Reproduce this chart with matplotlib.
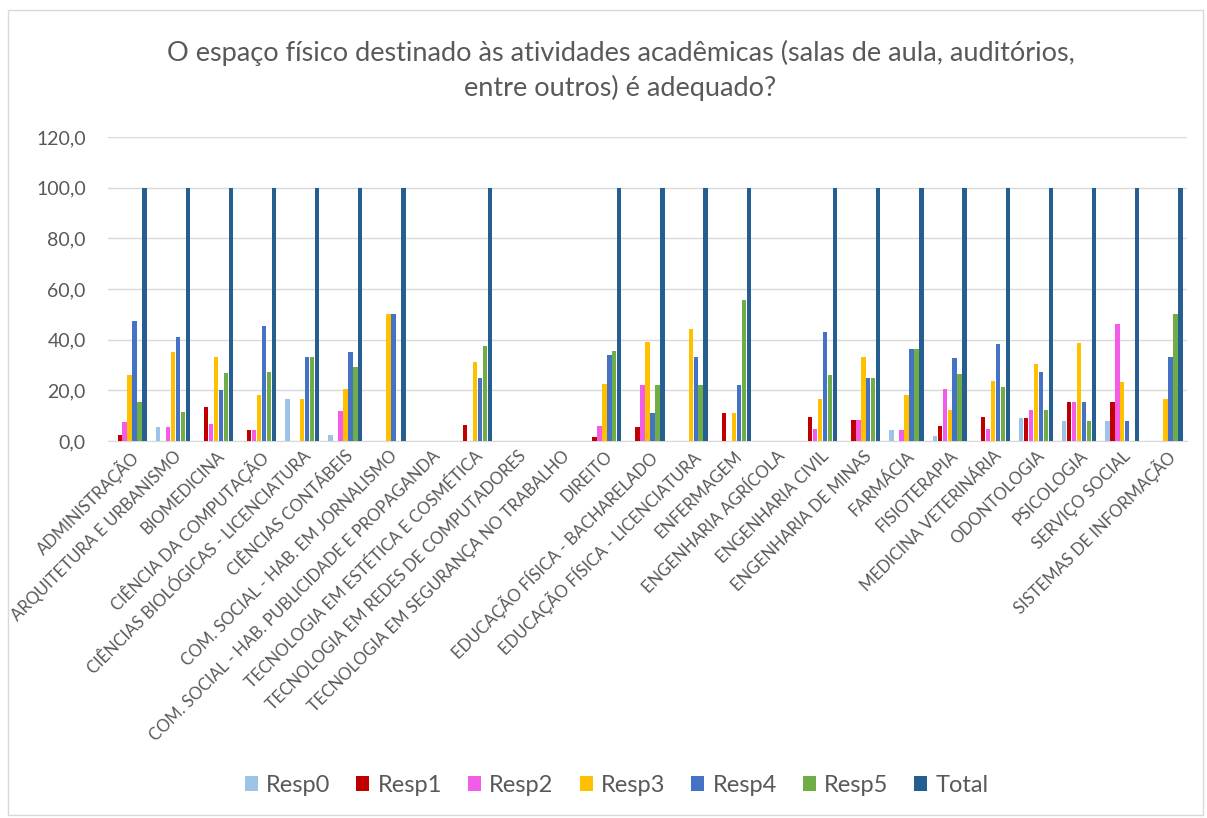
import matplotlib
matplotlib.use("Agg")
import matplotlib.pyplot as plt
import numpy as np
from matplotlib.patches import Rectangle
from matplotlib.ticker import FuncFormatter

categories = [
    "ADMINISTRAÇÃO", "ARQUITETURA E URBANISMO", "BIOMEDICINA", "CIÊNCIA DA COMPUTAÇÃO",
    "CIÊNCIAS BIOLÓGICAS - LICENCIATURA", "CIÊNCIAS CONTÁBEIS",
    "COM. SOCIAL - HAB. EM JORNALISMO", "COM. SOCIAL - HAB. PUBLICIDADE E PROPAGANDA",
    "TECNOLOGIA EM ESTÉTICA E COSMÉTICA", "TECNOLOGIA EM REDES DE COMPUTADORES",
    "TECNOLOGIA EM SEGURANÇA NO TRABALHO", "DIREITO", "EDUCAÇÃO FÍSICA - BACHARELADO",
    "EDUCAÇÃO FÍSICA - LICENCIATURA", "ENFERMAGEM", "ENGENHARIA AGRÍCOLA",
    "ENGENHARIA CIVIL", "ENGENHARIA DE MINAS", "FARMÁCIA", "FISIOTERAPIA",
    "MEDICINA VETERINÁRIA", "ODONTOLOGIA", "PSICOLOGIA", "SERVIÇO SOCIAL",
    "SISTEMAS DE INFORMAÇÃO",
]

resp0 = [0, 5.6, 0, 0, 16.7, 2.4, 0, 0, 0, 0, 0, 0, 0, 0, 0, 0, 0, 0, 4.5, 2.0, 0, 9.1, 7.7, 7.7, 0]
resp1 = [2.5, 0, 13.3, 4.5, 0, 0, 0, 0, 6.2, 0, 0, 1.6, 5.6, 0, 11.1, 0, 9.5, 8.3, 0, 6.1, 9.5, 9.1, 15.4, 15.4, 0]
resp2 = [7.5, 5.6, 6.7, 4.5, 0, 11.8, 0, 0, 0, 0, 0, 6.0, 22.2, 0, 0, 0, 4.8, 8.3, 4.5, 20.4, 4.8, 12.1, 15.4, 46.2, 0]
resp3 = [26.2, 35.2, 33.3, 18.2, 16.7, 20.5, 50.0, 0, 31.2, 0, 0, 22.6, 38.9, 44.4, 11.1, 0, 16.7, 33.3, 18.2, 12.2, 23.8, 30.3, 38.5, 23.1, 16.7]
resp4 = [47.5, 41.2, 20.0, 45.5, 33.3, 35.3, 50.0, 0, 25.0, 0, 0, 33.9, 11.1, 33.3, 22.2, 0, 42.9, 25.0, 36.4, 32.7, 38.1, 27.3, 15.4, 7.7, 33.3]
resp5 = [15.4, 11.4, 26.7, 27.3, 33.3, 29.4, 0, 0, 37.5, 0, 0, 35.5, 22.2, 22.2, 55.6, 0, 26.2, 25.0, 36.4, 26.5, 21.4, 12.1, 7.7, 0, 50.0]
total = [100, 100, 100, 100, 100, 100, 100, 0, 100, 0, 0, 100, 100, 100, 100, 0, 100, 100, 100, 100, 100, 100, 100, 100, 100]

series_names = ["Resp0", "Resp1", "Resp2", "Resp3", "Resp4", "Resp5", "Total"]
series_values = [resp0, resp1, resp2, resp3, resp4, resp5, total]
colors = ["#9DC3E6", "#C00000", "#F25CE8", "#FFC000", "#4472C4", "#70AD47", "#255E91"]

TXT = "#595959"
FONT = ["Lato", "DejaVu Sans"]
plt.rcParams["font.family"] = FONT

fig = plt.figure(figsize=(12.07, 8.18), dpi=100)
ax = fig.add_axes([0.0895, 0.4609, 0.8940, 0.3716])

x = np.arange(len(categories))
step = 0.115
width = 0.10
for i, (name, vals, c) in enumerate(zip(series_names, series_values, colors)):
    ax.bar(x + (i - 3) * step, vals, width=width, color=c, label=name, zorder=3, linewidth=0)

ax.set_xlim(-0.5, len(categories) - 0.5)
ax.set_ylim(0, 120)
ax.set_yticks(np.arange(0, 121, 20))
ax.yaxis.set_major_formatter(FuncFormatter(lambda v, p: f"{v:.1f}".replace(".", ",")))
ax.grid(axis="y", color="#D9D9D9", linewidth=1.0, zorder=0)
for s in ["top", "right", "left"]:
    ax.spines[s].set_visible(False)
ax.spines["bottom"].set_color("#D9D9D9")
ax.tick_params(axis="y", length=0, labelsize=14, labelcolor=TXT, pad=16)
ax.tick_params(axis="x", length=0, pad=5)
ax.set_xticks(x)
ax.set_xticklabels(categories, rotation=45, ha="right", rotation_mode="anchor",
                   fontsize=12, color=TXT)

fig.text(0.514, 0.914, "O espaço físico destinado às atividades acadêmicas (salas de aula, auditórios,\nentre outros) é adequado?",
         ha="center", va="center", fontsize=19.5, color=TXT, linespacing=1.45)

leg = fig.legend(loc="center", bbox_to_anchor=(0.511, 0.040), ncol=7, frameon=False,
                 fontsize=17, handlelength=0.55, handleheight=0.55, handletextpad=0.35,
                 columnspacing=1.1)
for t in leg.get_texts():
    t.set_color(TXT)

fig.patches.append(Rectangle((0.007, 0.004), 0.990, 0.984, transform=fig.transFigure,
                             fill=False, edgecolor="#D9D9D9", linewidth=1.0))

fig.savefig("out.png", dpi=100)
